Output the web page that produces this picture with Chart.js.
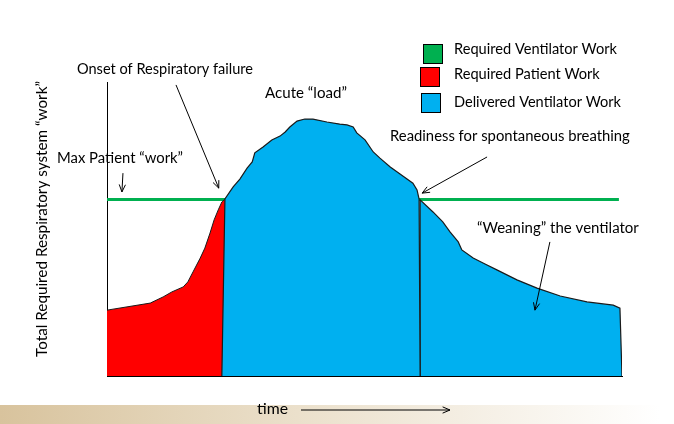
<!DOCTYPE html>
<html>
<head>
<meta charset="utf-8">
<script src="https://cdn.jsdelivr.net/npm/chart.js@4/dist/chart.umd.min.js"></script>
<style>
  html, body { margin: 0; padding: 0; background: #fff; }
  #wrap { width: 674px; height: 424px; }
</style>
</head>
<body>
<div id="wrap"><canvas id="work" width="674" height="424"></canvas></div>
<script>
// ==================== DATA (time 0..100, work 0..100) ====================
const maxPatientWork = 60;
const lineTime = [0, 99.4];

const patientTime = [0, 8.4, 10.9, 12.6, 14.8, 15.7, 16.7, 18.1, 19.0, 20.0, 20.8, 21.6, 22.3, 22.9];
const patientWork = [22.4, 24.8, 26.9, 28.6, 30.3, 32.0, 35.4, 40.1, 43.5, 48.6, 53.1, 56.5, 59.2, 60.2];

const acuteTime = [22.3, 22.9, 24.5, 25.8, 27.2, 28.2, 28.7, 30.3, 32.0, 33.6, 34.6, 35.5, 36.9, 38.4, 40.0,
  42.7, 45.2, 46.6, 47.8, 48.5, 50.1, 51.7, 53.0, 55.0, 56.9, 59.4, 60.2, 60.6, 60.8];
const acuteWork = [0, 60.2, 64.3, 67.0, 70.7, 72.8, 75.9, 77.9, 80.3, 81.6, 83.0, 84.7, 86.7, 87.4, 87.4,
  86.4, 85.7, 85.4, 84.7, 82.7, 80.3, 76.2, 74.1, 71.1, 68.7, 65.6, 63.3, 60.2, 0];

const weanTime = [60.8, 60.8, 63.3, 65.2, 66.6, 68.2, 68.9, 71.1, 73.4, 75.7, 79.6, 83.5, 88.0, 93.2, 98.3, 99.6, 100];
const weanWork = [0, 59.9, 55.8, 52.4, 49.0, 45.6, 42.9, 40.1, 38.1, 36.1, 32.7, 29.9, 27.2, 25.2, 24.1, 23.1, 0];

const legendLabels = ['Required Ventilator Work', 'Required Patient Work', 'Delivered Ventilator Work'];

// arrows: [tailTime, tailWork, tipTime, tipWork]
const notes = [
  { text: 'Onset of Respiratory failure', x: 77, y: 69, w: 176, arrow: [13.4, 99.0, 21.7, 63.9] },
  { text: 'Acute \u201cload\u201d', x: 265, y: 93, w: 82 },
  { text: 'Max Patient \u201cwork\u201d', x: 57, y: 158, w: 126, arrow: [3.1, 69.0, 2.9, 62.6] },
  { text: 'Readiness for spontaneous breathing', x: 390, y: 136, w: 240, arrow: [73.8, 74.5, 61.2, 62.2] },
  { text: '\u201cWeaning\u201d the ventilator', x: 477, y: 228, w: 162, arrow: [86.0, 45.6, 83.1, 22.4] }
];

const FONT = 'Lato, "Open Sans", sans-serif';
const BLUE = '#00b0f0';
const RED = '#ff0000';
const GREEN = '#00b050';

function toPoints(xs, ys) {
  return xs.map((x, i) => ({ x, y: ys[i] }));
}

// set font so the text spans the given width
function fitFont(ctx, text, w) {
  ctx.font = `20px ${FONT}`;
  const size = 20 * w / ctx.measureText(text).width;
  ctx.font = `${size.toFixed(2)}px ${FONT}`;
}

function drawArrow(ctx, x1, y1, x2, y2) {
  const a = Math.atan2(y2 - y1, x2 - x1);
  const h = 8;
  ctx.beginPath();
  ctx.moveTo(x1, y1);
  ctx.lineTo(x2, y2);
  ctx.moveTo(x2 - h * Math.cos(a - 0.4), y2 - h * Math.sin(a - 0.4));
  ctx.lineTo(x2, y2);
  ctx.lineTo(x2 - h * Math.cos(a + 0.4), y2 - h * Math.sin(a + 0.4));
  ctx.stroke();
}

const backdrop = {
  id: 'backdrop',
  beforeDraw(chart) {
    const ctx = chart.ctx;
    ctx.save();
    ctx.fillStyle = '#fff';
    ctx.fillRect(0, 0, chart.width, chart.height);
    const g = ctx.createLinearGradient(0, 0, 660, 0);
    g.addColorStop(0, '#d8c39d');
    g.addColorStop(0.45, '#ebe0cb');
    g.addColorStop(1, '#ffffff');
    ctx.fillStyle = g;
    ctx.fillRect(0, 405, chart.width, 19);
    ctx.restore();
  }
};

const annotations = {
  id: 'annotations',
  afterDraw(chart) {
    const ctx = chart.ctx;
    const xs = chart.scales.x, ys = chart.scales.y;
    ctx.save();
    ctx.fillStyle = '#000';
    ctx.strokeStyle = '#000';
    ctx.lineWidth = 1;
    ctx.textBaseline = 'middle';
    ctx.textAlign = 'left';

    notes.forEach(n => {
      fitFont(ctx, n.text, n.w);
      ctx.fillText(n.text, n.x, n.y);
      if (n.arrow) {
        const [t1, w1, t2, w2] = n.arrow;
        drawArrow(ctx, xs.getPixelForValue(t1), ys.getPixelForValue(w1),
          xs.getPixelForValue(t2), ys.getPixelForValue(w2));
      }
    });

    // legend
    const swatches = [
      { c: GREEN, x: 423, y: 44, s: 19, ty: 49, w: 163 },
      { c: RED, x: 420, y: 67, s: 19, ty: 74, w: 146 },
      { c: BLUE, x: 421, y: 93, s: 19, ty: 102, w: 167 }
    ];
    swatches.forEach((s, i) => {
      ctx.fillStyle = s.c;
      ctx.fillRect(s.x, s.y, s.s, s.s);
      ctx.strokeRect(s.x + 0.5, s.y + 0.5, s.s, s.s);
      ctx.fillStyle = '#000';
      fitFont(ctx, legendLabels[i], s.w);
      ctx.fillText(legendLabels[i], 454, s.ty);
    });

    // y title
    const yTitle = 'Total Required Respiratory system \u201cwork\u201d';
    ctx.save();
    ctx.translate(42, 219);
    ctx.rotate(-Math.PI / 2);
    ctx.textAlign = 'center';
    fitFont(ctx, yTitle, 276);
    ctx.fillText(yTitle, 0, 0);
    ctx.restore();

    // x title
    fitFont(ctx, 'time', 31);
    ctx.fillText('time', 257, 409);
    drawArrow(ctx, 301, 410, 450, 410);

    ctx.restore();
  }
};

const outline = '#1a1a1a';

new Chart(document.getElementById('work'), {
  type: 'line',
  data: {
    datasets: [
      {
        label: 'Delivered Ventilator Work (acute)',
        data: toPoints(acuteTime, acuteWork),
        backgroundColor: BLUE,
        borderColor: outline,
        borderWidth: 1.2,
        fill: 'origin',
        pointRadius: 0,
        tension: 0
      },
      {
        label: 'Delivered Ventilator Work (weaning)',
        data: toPoints(weanTime, weanWork),
        backgroundColor: BLUE,
        borderColor: outline,
        borderWidth: 1.2,
        fill: 'origin',
        pointRadius: 0,
        tension: 0
      },
      {
        label: 'Required Patient Work',
        data: toPoints(patientTime, patientWork),
        backgroundColor: RED,
        borderColor: outline,
        borderWidth: 1,
        fill: 'origin',
        pointRadius: 0,
        tension: 0
      },
      {
        label: 'Required Ventilator Work',
        data: toPoints(lineTime, [maxPatientWork, maxPatientWork]),
        borderColor: GREEN,
        borderWidth: 3,
        fill: false,
        pointRadius: 0
      }
    ]
  },
  options: {
    responsive: false,
    animation: false,
    devicePixelRatio: 1,
    layout: { padding: { left: 107, right: 52, top: 82, bottom: 48 } },
    plugins: {
      legend: { display: false },
      tooltip: { enabled: false }
    },
    scales: {
      x: {
        type: 'linear',
        min: 0,
        max: 100,
        ticks: { display: false },
        grid: { display: false, drawTicks: false },
        border: { display: true, color: '#000', width: 1 }
      },
      y: {
        min: 0,
        max: 100,
        ticks: { display: false },
        grid: { display: false, drawTicks: false },
        border: { display: true, color: '#000', width: 1 }
      }
    }
  },
  plugins: [backdrop, annotations]
});
</script>
</body>
</html>
